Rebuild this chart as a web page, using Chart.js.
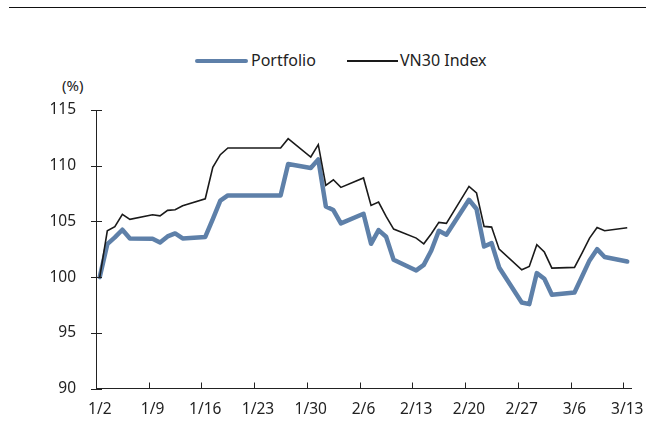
<!DOCTYPE html>
<html>
<head>
<meta charset="utf-8">
<script src="https://cdn.jsdelivr.net/npm/chart.js@4"></script>
<style>
  body { margin: 0; background: #fff; }
  #wrap { position: relative; width: 646px; height: 430px; font-family: "Noto Sans", sans-serif; color: #222; }
  #topRule { position: absolute; left: 9px; right: 0; top: 7px; height: 1.3px; background: #111; }
  .unit { position: absolute; left: 62px; top: 75px; font-size: 15px; }
  .leg { position: absolute; font-size: 16px; line-height: 20px; top: 50px; }
  .swatch { position: absolute; }
  canvas { position: absolute; left: 0; top: 0; }
</style>
</head>
<body>
<div id="wrap">
  <div id="topRule"></div>
  <div class="unit">(%)</div>
  <div class="swatch" style="left:195px;top:58.5px;width:53px;height:4.5px;border-radius:3px;background:#5e80a9"></div>
  <div class="leg" style="left:251px">Portfolio</div>
  <div class="swatch" style="left:347px;top:60px;width:51px;height:1.6px;background:#1a1a1a"></div>
  <div class="leg" style="left:400px">VN30 Index</div>
  <canvas id="perfChart" width="646" height="430"></canvas>
</div>
<script>
// trading days (Tet holiday weekdays carry the last close)
const dates = [
  "1/2", "1/3", "1/4", "1/5", "1/6",
  "1/9", "1/10", "1/11", "1/12", "1/13",
  "1/16", "1/17", "1/18", "1/19", "1/20",
  "1/23", "1/24", "1/25", "1/26", "1/27",
  "1/30", "1/31", "2/1", "2/2", "2/3",
  "2/6", "2/7", "2/8", "2/9", "2/10",
  "2/13", "2/14", "2/15", "2/16", "2/17",
  "2/20", "2/21", "2/22", "2/23", "2/24",
  "2/27", "2/28", "3/1", "3/2", "3/3",
  "3/6", "3/7", "3/8", "3/9", "3/10",
  "3/13"
];
const portfolio = [
  100.0, 102.96, 103.56, 104.25, 103.47,
  103.44, 103.11, 103.65, 103.92, 103.47,
  103.6, 105.2, 106.86, 107.33, 107.33,
  107.33, 107.33, 107.33, 107.33, 110.15,
  109.79, 110.57, 106.34, 106.02, 104.82,
  105.69, 102.99, 104.22, 103.62, 101.55,
  100.6, 101.1, 102.39, 104.16, 103.8,
  106.94, 106.11, 102.75, 103.05, 100.87,
  97.72, 97.57, 100.36, 99.85, 98.41,
  98.62, 100.06, 101.5, 102.51, 101.8,
  101.4
];
const vn30 = [
  100.0, 104.16, 104.52, 105.63, 105.18,
  105.6, 105.5, 105.99, 106.05, 106.4,
  107.03, 109.85, 110.99, 111.59, 111.59,
  111.59, 111.59, 111.59, 111.59, 112.43,
  110.78, 111.89, 108.23, 108.74, 108.05,
  108.9, 106.44, 106.74, 105.45, 104.31,
  103.5, 102.99, 103.89, 104.91, 104.82,
  108.14, 107.55, 104.55, 104.49, 102.51,
  100.66, 100.95, 102.9, 102.25, 100.81,
  100.87, 102.16, 103.5, 104.46, 104.16,
  104.43
];
const xTickLabels = ["1/2", "1/9", "1/16", "1/23", "1/30", "2/6", "2/13", "2/20", "2/27", "3/6", "3/13"];
const yTicks = [90, 95, 100, 105, 110, 115];

// days since 1/2 (Jan 31 days, Feb 28 days)
function dayOf(label) {
  const [m, d] = label.split("/").map(Number);
  if (m === 1) return d - 2;
  if (m === 2) return 29 + d;
  return 57 + d;
}

const toPoints = (vals) => dates.map((dt, i) => ({ x: dayOf(dt) + 0.5, y: vals[i] }));

// tick marks: y ticks cross the axis, x ticks sit inside at day boundaries
const tickMarks = {
  id: "tickMarks",
  afterDraw(chart) {
    const { ctx, scales: { x, y } } = chart;
    ctx.save();
    ctx.strokeStyle = "#222";
    ctx.lineWidth = 1;
    yTicks.forEach((v) => {
      const py = Math.round(y.getPixelForValue(v)) + 0.5;
      const px = x.left;
      ctx.beginPath();
      ctx.moveTo(px - 5, py);
      ctx.lineTo(px + 6, py);
      ctx.stroke();
    });
    xTickLabels.forEach((l) => {
      const px = Math.round(x.getPixelForValue(dayOf(l))) + 0.5;
      ctx.beginPath();
      ctx.moveTo(px, y.bottom);
      ctx.lineTo(px, y.bottom - 6);
      ctx.stroke();
    });
    ctx.restore();
  },
};

const tickFont = { family: "Noto Sans", size: 15.5 };

new Chart(document.getElementById("perfChart"), {
  type: "line",
  data: {
    datasets: [
      {
        label: "VN30 Index",
        data: toPoints(vn30),
        borderColor: "#1a1a1a",
        borderWidth: 1.6,
        pointRadius: 0,
        tension: 0,
      },
      {
        label: "Portfolio",
        data: toPoints(portfolio),
        borderColor: "#5e80a9",
        borderWidth: 4.5,
        borderJoinStyle: "round",
        borderCapStyle: "round",
        pointRadius: 0,
        tension: 0,
      },
    ],
  },
  options: {
    responsive: false,
    animation: false,
    devicePixelRatio: 1,
    layout: { padding: { top: 110, right: 15, left: 0, bottom: 0 } },
    plugins: { legend: { display: false }, tooltip: { enabled: false } },
    scales: {
      x: {
        type: "linear",
        min: 0,
        max: 71,
        afterBuildTicks: (s) => { s.ticks = xTickLabels.map((l) => ({ value: dayOf(l) + 0.5 })); },
        afterFit: (s) => { s.height = 41.5; s.paddingRight = 0; s.paddingLeft = 0; },
        ticks: {
          autoSkip: false,
          maxRotation: 0,
          padding: 12,
          color: "#222",
          font: tickFont,
          callback: (v) => xTickLabels.find((l) => dayOf(l) + 0.5 === v) || "",
        },
        grid: { display: false, drawTicks: false },
        border: { display: true, color: "#222", width: 1 },
      },
      y: {
        min: 90,
        max: 115,
        afterFit: (s) => { s.width = 96; s.paddingTop = 0; s.paddingBottom = 0; },
        ticks: { stepSize: 5, padding: 20, color: "#222", font: tickFont },
        grid: { display: false, drawTicks: false },
        border: { display: true, color: "#222", width: 1 },
      },
    },
  },
  plugins: [tickMarks],
});
</script>
</body>
</html>
